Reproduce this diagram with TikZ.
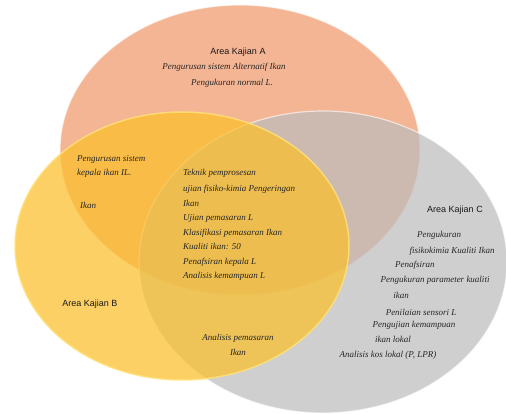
\documentclass[tikz,border=0pt]{standalone}
\usepackage{fontspec}
\setmainfont{Liberation Serif}
\newfontfamily\labfont{Liberation Sans}
\begin{document}
\begin{tikzpicture}[x=1pt,y=-1pt,
  body/.style={font=\fontsize{9}{14.5}\selectfont\itshape, text=black!85, inner sep=0pt},
  arealab/.style={font=\labfont\fontsize{9}{11}\selectfont, text=black!90, inner sep=0pt},
  setA/.style={fill=AC, draw=white, draw opacity=0.6, line width=1.2pt},
  setB/.style={fill=BC, fill opacity=0.72, draw=BR, draw opacity=0.8, line width=1.5pt},
  setC/.style={fill=CC, fill opacity=0.72, draw=white, draw opacity=0.6, line width=1.2pt}]
\definecolor{AC}{HTML}{F4B594}
\definecolor{BC}{HTML}{FBBF2A}
\definecolor{BR}{HTML}{FFE27A}
\definecolor{CC}{HTML}{BDBDBD}
\useasboundingbox (0,0) rectangle (506,414);
\fill[white] (0,0) rectangle (506,414);
% circles
\path[setA] (240,150) ellipse [x radius=180, y radius=145];
\path[setC] (323,262) ellipse [x radius=184, y radius=151];
\path[setB] (182,246) ellipse [x radius=167, y radius=134];
% Area A
\node[arealab] (la) at (238,52) {Area Kajian A};
\node[body] (a1) at (224,67) {Pengurusan sistem Alternatif Ikan};
\node[body] (a2) at (232,83) {Pengukuran normal L.};
% A and B
\node[body, align=left, anchor=north west] (ab) at (77,155) {Pengurusan sistem\\kepala ikan IL.};
\node[body, anchor=west] (ab2) at (80,205) {Ikan};
% centre
\node[body, align=left, anchor=north west] (abc) at (183,169) {%
Teknik pemprosesan\\[2pt]
ujian fisiko-kimia Pengeringan\\
Ikan\\
Ujian pemasaran L\\
Klasifikasi pemasaran Ikan\\
Kualiti ikan: 50\\
Penafsiran kepala L\\
Analisis kemampuan L};
% Area B
\node[arealab] (lb) at (90,304) {Area Kajian B};
% B and C
\node[body, align=center] (bc) at (238,345) {Analisis pemasaran\\Ikan};
% Area C
\node[arealab] (lc) at (455,210) {Area Kajian C};
\node[body] (c1) at (439,235) {Pengukuran};
\node[body] (c2) at (452,251) {fisikokimia Kualiti Ikan};
\node[body, anchor=west] (c3) at (395,265) {Penafsiran};
\node[body] (c4) at (435,280) {Pengukuran parameter kualiti};
\node[body] (c5) at (401,295) {ikan};
\node[body] (c6) at (421,312) {Penilaian sensori L};
\node[body] (c7) at (414,325) {Pengujian kemampuan};
\node[body] (c8) at (393,339) {ikan lokal};
\node[body] (c9) at (388,355) {Analisis kos lokal (P, LPR)};
\end{tikzpicture}
\end{document}
